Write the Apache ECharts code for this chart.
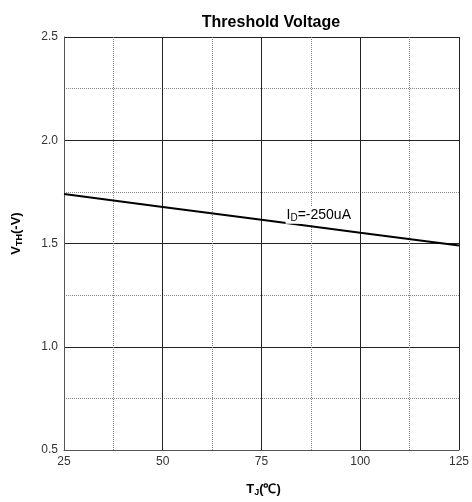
<!DOCTYPE html>
<html>
<head>
<meta charset="utf-8">
<script src="https://cdn.jsdelivr.net/npm/echarts@6/dist/echarts.min.js"></script>
<style>html,body{margin:0;padding:0;background:#fff}#c{width:472px;height:502px}</style>
</head>
<body>
<div id="c"></div>
<script>
// Junction temperature (°C) and gate threshold voltage (-V) at ID = -250uA
const tempC = [25, 50, 75, 100, 125];
const vth = [1.74, 1.677, 1.615, 1.552, 1.49];
const xTicks = [25, 50, 75, 100, 125];
const yTicks = [0.5, 1.0, 1.5, 2.0, 2.5];
const curveLabel = { x: 89.5, text: '{i|I}{s|D}{i|=-250uA}' };

const font = 'Liberation Sans, Arial, sans-serif';
const chart = echarts.init(document.getElementById('c'), null, { renderer: 'canvas' });

const labelY = vth[0] + (vth[vth.length - 1] - vth[0]) * (curveLabel.x - tempC[0]) / (tempC[tempC.length - 1] - tempC[0]);

const nameRich = {
  b: { fontFamily: font, fontSize: 13, fontWeight: 'bold', color: '#000' },
  s: { fontFamily: font, fontSize: 9, fontWeight: 'bold', color: '#000', verticalAlign: 'bottom', padding: [7, 0, 0, 0] }
};

chart.setOption({
  animation: false,
  backgroundColor: '#fff',
  title: {
    text: 'Threshold Voltage',
    left: 266, top: 10, textAlign: 'center',
    textStyle: { fontFamily: font, fontSize: 16, fontWeight: 'bold', color: '#000' }
  },
  grid: { left: 64, right: 10, top: 37, bottom: 51, containLabel: false },
  xAxis: {
    type: 'value', min: xTicks[0], max: xTicks[xTicks.length - 1], interval: 25,
    name: '{b|T}{s|J}{b|(℃)}', nameLocation: 'middle', nameGap: 31,
    nameTextStyle: { rich: nameRich, padding: [0, 0, 0, 4] },
    axisLine: { show: true, lineStyle: { color: '#555', width: 1 } },
    axisTick: { show: false },
    axisLabel: { fontFamily: font, fontSize: 12, color: '#333', margin: 6 },
    splitLine: { show: true, lineStyle: { color: '#222', width: 1 } },
    minorTick: { show: false, splitNumber: 2 },
    minorSplitLine: { show: true, lineStyle: { color: '#888', width: 1, type: [1, 1] } }
  },
  yAxis: {
    type: 'value', min: yTicks[0], max: yTicks[yTicks.length - 1], interval: 0.5,
    name: '{b|V}{s|TH}{b|(-V)}', nameLocation: 'middle', nameGap: 40,
    nameTextStyle: { rich: nameRich, padding: [0, 0, 0, 20] },
    axisLine: { show: true, lineStyle: { color: '#555', width: 1 } },
    axisTick: { show: false },
    axisLabel: { fontFamily: font, fontSize: 12, color: '#333', margin: 6, formatter: v => v.toFixed(1) },
    splitLine: { show: true, lineStyle: { color: '#222', width: 1 } },
    minorTick: { show: false, splitNumber: 2 },
    minorSplitLine: { show: true, lineStyle: { color: '#888', width: 1, type: [1, 1] } }
  },
  series: [{
    type: 'line',
    data: tempC.map((t, i) => [t, vth[i]]),
    showSymbol: false,
    lineStyle: { color: '#000', width: 2 },
    markPoint: {
      symbol: 'circle', symbolSize: 0,
      data: [{ coord: [curveLabel.x, labelY] }],
      label: {
        show: true, position: 'inside', offset: [0, -12],
        formatter: curveLabel.text,
        backgroundColor: '#fff', padding: [0, 1, 0, 1],
        rich: {
          i: { fontFamily: font, fontSize: 14, color: '#000' },
          s: { fontFamily: font, fontSize: 10, color: '#000', verticalAlign: 'bottom', padding: [7, 0, 0, 0] }
        }
      }
    }
  }]
});
</script>
</body>
</html>
